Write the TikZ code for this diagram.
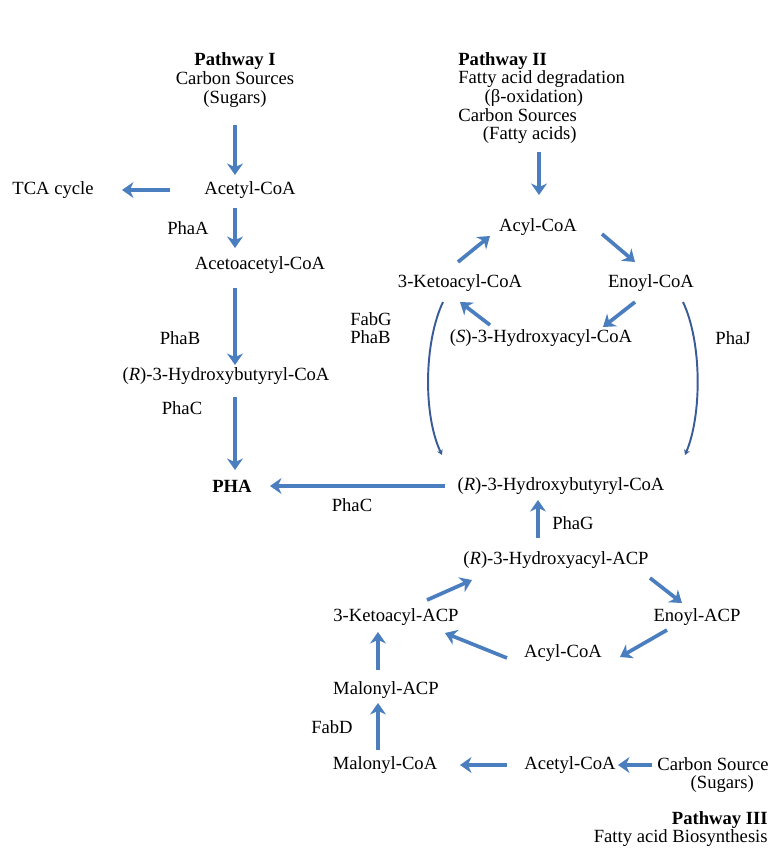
\documentclass[tikz,border=0pt]{standalone}
\usepackage{fontspec}
\setmainfont{Liberation Serif}
\usetikzlibrary{arrows.meta}
\definecolor{fleche}{RGB}{74,126,190}
\definecolor{courbe}{RGB}{58,92,150}

\begin{document}
\begin{tikzpicture}[x=0.02cm,y=-0.02cm,
  every node/.style={inner sep=0pt,font=\fontsize{10.6}{10.6}\selectfont},
  arr/.style={line width=2.1pt,fleche,-{Stealth[length=6.5pt,width=9pt,inset=2pt]}},
  crb/.style={line width=1.1pt,courbe,-{Stealth[length=3pt,width=3.5pt]}}]
\useasboundingbox (0,0) rectangle (773,850);
% Pathway I
\node[align=center] (p1) at (235,80) {\textbf{Pathway I}\\Carbon Sources\\(Sugars)};
\node (acetA) at (250,190) {Acetyl-CoA};
\node (tca) at (53,190) {TCA cycle};
\node (acacA) at (260,265) {Acetoacetyl-CoA};
\node (hbA) at (226,376) {(\textit{R})-3-Hydroxybutyryl-CoA};
\node (pha) at (232,486) {\textbf{PHA}};
\node at (188,228) {PhaA};
\node at (180,338) {PhaB};
\node at (182,408) {PhaC};
% Pathway II
\node[anchor=north west,align=left] (p2) at (458,52) {\textbf{Pathway II}\\Fatty acid degradation\\\hspace{15pt}(β-oxidation)\\Carbon Sources\\\hspace{14pt}(Fatty acids)};
\node (acylB) at (538,227) {Acyl-CoA};
\node (ketoB) at (460,283) {3-Ketoacyl-CoA};
\node (enoylB) at (651,283) {Enoyl-CoA};
\node (shcoa) at (541,338) {(\textit{S})-3-Hydroxyacyl-CoA};
\node[align=left] (fabg) at (371,328) {FabG\\PhaB};
\node (phaj) at (733,338) {PhaJ};
\node (hbB) at (561,486) {(\textit{R})-3-Hydroxybutyryl-CoA};
\node (phac) at (352,505) {PhaC};
% Pathway III
\node (phag) at (573,523) {PhaG};
\node (hacp) at (556,560) {(\textit{R})-3-Hydroxyacyl-ACP};
\node (ketoacp) at (396,617) {3-Ketoacyl-ACP};
\node (enoylacp) at (697,617) {Enoyl-ACP};
\node (acylC) at (563,653) {Acyl-CoA};
\node (malacp) at (386,690) {Malonyl-ACP};
\node (fabd) at (332,727) {FabD};
\node (malcoa) at (385,765) {Malonyl-CoA};
\node (acetC) at (570,765) {Acetyl-CoA};
\node[anchor=north west,align=left] (carbon) at (657,757) {Carbon Source\\\hspace{19pt}(Sugars)};
\node[anchor=north east,align=right] (p3) at (768,811) {\textbf{Pathway III}\hspace{9pt}\\Fatty acid Biosynthesis};

\draw[arr] ([shift={(0,45)}]p1.center) -- ([shift={(-15,-15)}]acetA.center);
\draw[arr] ([shift={(-80,0)}]acetA.center) -- ([shift={(69,0)}]tca.center);
\draw[arr] ([shift={(-15,18)}]acetA.center) -- ([shift={(-25,-17)}]acacA.center);
\draw[arr] ([shift={(-25,23)}]acacA.center) -- ([shift={(9,-11)}]hbA.center);
\draw[arr] ([shift={(9,21)}]hbA.center) -- ([shift={(3,-16)}]pha.center);
\draw[arr] ([shift={(-116,0)}]hbB.center) -- ([shift={(38,0)}]pha.center);

\draw[arr] ([shift={(81,100)}]p2.north west) -- ([shift={(1,-32)}]acylB.center);
\draw[arr] ([shift={(-2,-21)}]ketoB.center) -- ([shift={(-48,9)}]acylB.center);
\draw[arr] ([shift={(64,7)}]acylB.center) -- ([shift={(-16,-21)}]enoylB.center);
\draw[arr] ([shift={(-16,19)}]enoylB.center) -- ([shift={(62,-11)}]shcoa.center);
\draw[arr] ([shift={(-51,-13)}]shcoa.center) -- ([shift={(0,19)}]ketoB.center);
\draw[crb] ([shift={(-17,19)}]ketoB.center) .. controls +(-19,40) and +(-19,-40) .. ([shift={(-119,-31)}]hbB.center);
\draw[crb] ([shift={(32,19)}]enoylB.center) .. controls +(19,40) and +(17,-40) .. ([shift={(124,-31)}]hbB.center);

\draw[arr] ([shift={(-18,-22)}]hacp.center) -- ([shift={(-23,14)}]hbB.center);
\draw[arr] ([shift={(31,-17)}]ketoacp.center) -- ([shift={(-84,20)}]hacp.center);
\draw[arr] ([shift={(94,18)}]hacp.center) -- ([shift={(-15,-14)}]enoylacp.center);
\draw[arr] ([shift={(-30,13)}]enoylacp.center) -- ([shift={(57,4)}]acylC.center);
\draw[arr] ([shift={(-56,5)}]acylC.center) -- ([shift={(49,16)}]ketoacp.center);
\draw[arr] ([shift={(-8,-20)}]malacp.center) -- ([shift={(-18,15)}]ketoacp.center);
\draw[arr] ([shift={(-7,-15)}]malcoa.center) -- ([shift={(-8,13)}]malacp.center);
\draw[arr] ([shift={(-63,0)}]acetC.center) -- ([shift={(75,0)}]malcoa.center);
\draw[arr] ([shift={(-5,8)}]carbon.north west) -- ([shift={(48,0)}]acetC.center);

\end{tikzpicture}
\end{document}
